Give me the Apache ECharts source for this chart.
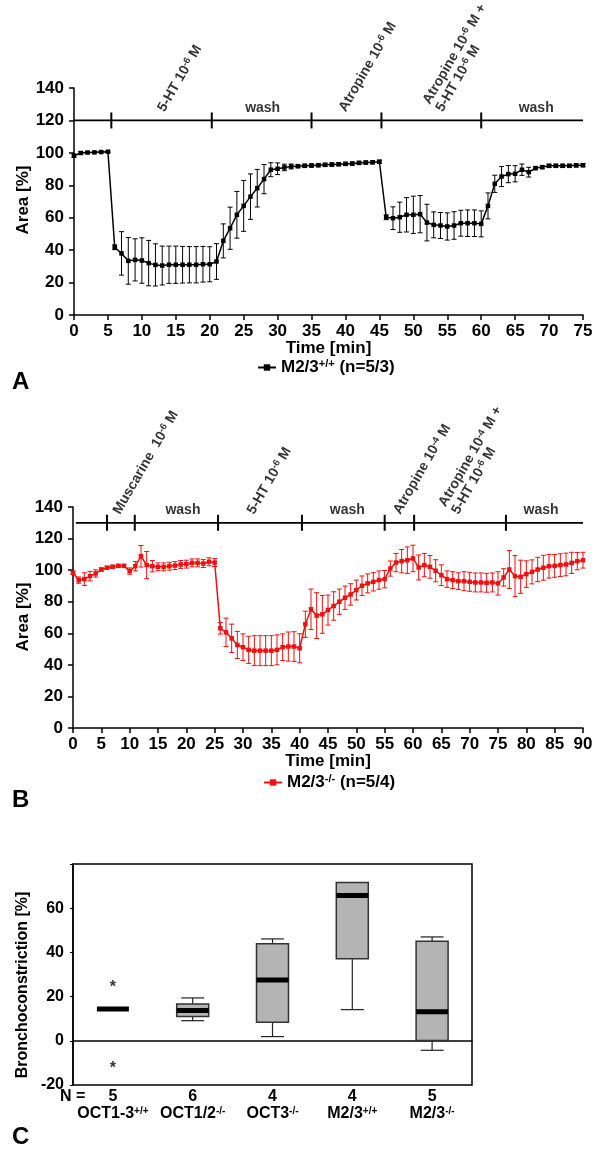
<!DOCTYPE html>
<html><head><meta charset="utf-8">
<script src="https://cdn.jsdelivr.net/npm/echarts@6/dist/echarts.min.js"></script>
<style>html,body{margin:0;padding:0;background:#fff}#c{width:600px;height:1154px}</style>
</head><body><div id="c"></div>
<script>
// ---------- Panel A: M2/3+/+ (mean, SEM per minute 0..75) ----------
const meanA = [98.2,99.9,100.2,100.3,100.5,100.7,41.8,38,33.4,34,33.6,32,30.9,30.5,31,31,31,31,31,31.3,31.3,
  33,45.7,53.5,61.8,67.3,73,78.2,83.8,89.6,90.2,91,91.6,91.8,92,92.2,92.4,92.6,92.8,93,93.2,93.4,93.8,94,94.2,94.5,
  60.3,59.7,60.3,61.8,61.8,62.2,57,55.6,55.2,54.6,55.2,56.6,56.6,56.6,56.2,
  67.3,80.9,85.4,86.9,87.1,89.6,88.1,90.6,91.2,92,92,92,92,92.3,92.4];
const semA = [1,0.8,0.6,0.5,0.5,0.5,1.5,13.4,14.4,13,14,14,13,12,11.5,11.5,11.3,11.2,11.2,11,10.8,
  11,10.5,13,14.4,15.7,14,11.6,9,4.3,3.6,2,1.5,1,1,1,1,1,1,1,1,1,1,1,1,1,
  1.5,7,9.3,10.6,11.5,11.5,11.3,8,8,8.4,8.5,8,8.2,8.2,8,
  8,5.3,6.2,5.3,5,3.5,3,1,1,1,1,1,1,1,1];
const annoTicksA = [5.5, 20.3, 35, 45.3, 60];
const annoLabelsA = [
  ['5-HT 10{s|-6} M', 13.8, true],
  ['wash', 27.8, false],
  ['Atropine 10{s|-6} M', 40.5, true],
  ['Atropine 10{s|-6} M +\n5-HT 10{s|-6} M', 54.8, true],
  ['wash', 68.1, false]
];

// ---------- Panel B: M2/3-/- (mean, SEM per minute 0..90) ----------
const meanB = [98.3,93.7,94.3,96.2,97.9,100.4,101.5,102.1,102.7,102.7,99.4,102.5,108.8,103.2,102.5,102.1,102.1,102.5,102.9,103.6,103.8,
  104.6,104.6,104.2,105.3,104.8,63.2,60.6,56.8,52.6,51.2,49.5,49,49,49,49,49.5,51.2,51.6,51.6,50.5,
  65.7,75.2,71.2,72,74.7,77.3,80,82.5,84.6,87.4,90.1,91.6,92.6,93.7,94.3,
  101,104.8,105.7,106.3,107.4,101.7,103.2,102.1,99.6,96.8,94.3,93.7,93,93,92.6,92.2,92.2,92,92.2,91.6,
  95.4,100.4,96.2,95.8,97.5,98.9,100.4,101.5,102.5,102.7,103.2,103.6,104.6,105.7,106.3];
const semB = [1,2,4,3,2.3,1,1,1,1,1,2,3,6.8,8.6,3.6,2.5,2.5,2.5,2.5,2.5,2.5,
  2.5,2.5,2.5,2.5,2.5,3.7,9,9,8.6,8.4,8.6,9.5,9.5,9.5,9.5,9.5,8.4,9.2,9.4,9.2,
  8.3,12.8,14.5,12,9.5,9,8,7.4,6.8,6.3,6.2,6,5.8,5.8,5.5,
  4.8,5.8,7.4,8.4,8.4,7.9,7.4,7.2,7,6.6,5.2,5.3,5.3,6,6,6,6,6,6,7.4,
  5.5,12,13,10.5,8.4,7.6,7.7,7.9,7.5,7.2,7.2,7.2,6.7,5.5,5];
const annoTicksB = [6, 10.9, 25.6, 40.4, 55, 60.2, 76.4];
const annoLabelsB = [
  ['Muscarine  10{s|-6} M', 8.85, true],
  ['wash', 19.4, false],
  ['5-HT 10{s|-6} M', 32.5, true],
  ['wash', 48.4, false],
  ['Atropine 10{s|-4} M', 58.3, true],
  ['Atropine 10{s|-4} M +\n5-HT 10{s|-6} M', 68.6, true],
  ['wash', 82.6, false]
];

// ---------- Panel C: box plot ----------
const groupNames = ['OCT1-3', 'OCT1/2', 'OCT3', 'M2/3', 'M2/3'];
const groupSup = ['+/+', '-/-', '-/-', '+/+', '-/-'];
const groupN = [5, 6, 4, 4, 5];
const boxMin = [14.4, 9.1, 1.9, 14.1, -4.3];
const boxQ1  = [14.4, 11, 8.4, 37.1, 0.1];
const boxMed = [14.4, 13.7, 27.5, 65.7, 13.2];
const boxQ3  = [14.4, 16.7, 43.9, 71.6, 45];
const boxMax = [14.4, 19.4, 46.1, 71.6, 47];
const outliers = [[0, 26], [0, -10.8]];

const F = 'Liberation Sans';
const RED = '#f01010';
const supRich = { s: { fontSize: 9.5, lineHeight: 9.5, verticalAlign: 'top', fontWeight: 'bold', fontFamily: F, color: '#000' } };

function errRender(color) {
  return function (params, api) {
    const x = api.value(0);
    const lo = api.coord([x, api.value(1)]);
    const hi = api.coord([x, api.value(2)]);
    const w = 2.5;
    const st = { stroke: color, lineWidth: 1 };
    return { type: 'group', children: [
      { type: 'line', shape: { x1: lo[0], y1: lo[1], x2: hi[0], y2: hi[1] }, style: st },
      { type: 'line', shape: { x1: hi[0] - w, y1: hi[1], x2: hi[0] + w, y2: hi[1] }, style: st },
      { type: 'line', shape: { x1: lo[0] - w, y1: lo[1], x2: lo[0] + w, y2: lo[1] }, style: st }
    ] };
  };
}
function tickRender(params, api) {
  const p = api.coord([api.value(0), api.value(1)]);
  return { type: 'line', shape: { x1: p[0], y1: p[1] - 8, x2: p[0], y2: p[1] + 8 }, style: { stroke: '#000', lineWidth: 2 } };
}
function annoSeries(labels, y, idx) {
  return {
    type: 'scatter', xAxisIndex: idx, yAxisIndex: idx, symbolSize: 0, silent: true, z: 5,
    data: labels.map(([text, t, rot]) => ({
      value: [t, y],
      label: rot
        ? { show: true, formatter: text, position: 'top', distance: 6, align: 'left', verticalAlign: 'bottom', rotate: 60 }
        : { show: true, formatter: text, position: 'top', distance: 5, align: 'center', verticalAlign: 'bottom', rotate: 0 }
    })),
    label: { color: '#000', fontFamily: F, fontWeight: 'bold', fontSize: 14, lineHeight: 15, rich: supRich }
  };
}
function timeSeries(name, mean, sem, color, idx, annoY, annoStart, annoEnd, ticks, labels) {
  return [
    { type: 'line', xAxisIndex: idx, yAxisIndex: idx, silent: true, symbol: 'none', z: 4,
      data: [[annoStart, annoY], [annoEnd, annoY]], lineStyle: { color: '#000', width: 1.8 } },
    { type: 'custom', xAxisIndex: idx, yAxisIndex: idx, silent: true, z: 4, renderItem: tickRender,
      data: ticks.map(t => [t, annoY]) },
    annoSeries(labels, annoY, idx),
    { type: 'custom', xAxisIndex: idx, yAxisIndex: idx, silent: true, z: 2, renderItem: errRender(color),
      encode: { x: 0, y: [1, 2] },
      data: mean.map((v, i) => [i, v - sem[i], v + sem[i]]) },
    { type: 'line', name: name, xAxisIndex: idx, yAxisIndex: idx, z: 3,
      data: mean.map((v, i) => [i, v]), symbol: 'rect', symbolSize: 4.5,
      itemStyle: { color: color }, lineStyle: { color: color, width: 1.5 } }
  ];
}

const axisText = { color: '#000', fontFamily: F, fontWeight: 'bold', fontSize: 17 };
const axisTextC = { color: '#000', fontFamily: F, fontWeight: 'bold', fontSize: 16 };
const axLine = { show: true, lineStyle: { color: '#000', width: 1.5 } };
const axTick = { show: true, length: 5, lineStyle: { color: '#000', width: 1.5 } };

function timeX(idx, max) {
  return { type: 'value', gridIndex: idx, min: 0, max: max, interval: 5, splitLine: { show: false },
    axisLine: axLine, axisTick: axTick, axisLabel: Object.assign({ margin: 8 }, axisText),
    name: 'Time [min]', nameLocation: 'middle', nameGap: 25, nameMoveOverlap: false,
    nameTextStyle: Object.assign({}, axisText) };
}
function areaY(idx) {
  return { type: 'value', gridIndex: idx, min: 0, max: 140, interval: 20, splitLine: { show: false },
    axisLine: axLine, axisTick: axTick, axisLabel: Object.assign({ margin: 10 }, axisText) };
}
const legendRich = {
  m: { fontFamily: F, fontWeight: 'bold', fontSize: 17, lineHeight: 19, color: '#000' },
  s: { fontFamily: F, fontWeight: 'bold', fontSize: 11, lineHeight: 11, verticalAlign: 'top', color: '#000' }
};
const yName = (text, x, y) => ({ type: 'text', x: x, y: y, rotation: Math.PI / 2,
  style: { text: text, font: 'bold 17px "Liberation Sans"', fill: '#000', textAlign: 'center', textVerticalAlign: 'middle' } });

const chart = echarts.init(document.getElementById('c'), null, { renderer: 'canvas' });
chart.setOption({
  animation: false,
  backgroundColor: '#fff',
  grid: [
    { left: 74, right: 17, top: 88, bottom: 839 },
    { left: 73, right: 17, top: 507, bottom: 426 },
    { left: 73, right: 128, top: 864, bottom: 69, show: true, borderColor: '#000', borderWidth: 1.5 }
  ],
  xAxis: [
    timeX(0, 75),
    timeX(1, 90),
    { type: 'category', gridIndex: 2, data: groupNames.map((g, i) => String(i)),
      axisLine: axLine, axisTick: { show: false }, splitLine: { show: false },
      axisLabel: { margin: 3, interval: 0,
        formatter: (v, i) => '{n|' + groupN[i] + '}\n{c|' + groupNames[i] + '}{s|' + groupSup[i] + '}',
        rich: {
          n: { fontFamily: F, fontWeight: 'bold', fontSize: 16, lineHeight: 18, color: '#000' },
          c: { fontFamily: F, fontWeight: 'bold', fontSize: 16, lineHeight: 16, color: '#000' },
          s: { fontFamily: F, fontWeight: 'bold', fontSize: 10, lineHeight: 10, verticalAlign: 'top', color: '#000' }
        } } }
  ],
  yAxis: [
    areaY(0),
    areaY(1),
    { type: 'value', gridIndex: 2, min: -20, max: 80, interval: 20, splitLine: { show: false },
      axisLine: axLine, axisTick: { show: true, length: 3, lineStyle: { color: '#000' } },
      axisLabel: Object.assign({ margin: 9, formatter: v => (v === 80 ? '' : String(v)) }, axisTextC) }
  ],
  legend: [
    { data: ['wt'], left: 252, top: 353, itemWidth: 18, itemHeight: 8, selectedMode: false, itemGap: 6,
      formatter: () => '{m|M2/3}{s|+/+}{m| (n=5/3)}', textStyle: { rich: legendRich } },
    { data: ['ko'], left: 258, top: 768, itemWidth: 18, itemHeight: 8, selectedMode: false, itemGap: 6,
      formatter: () => '{m|M2/3}{s|-/-}{m| (n=5/4)}', textStyle: { rich: legendRich } }
  ],
  graphic: [
    { type: 'text', left: 12, top: 370, style: { text: 'A', font: 'bold 24px "Liberation Sans"', fill: '#000' } },
    { type: 'text', left: 12, top: 788, style: { text: 'B', font: 'bold 24px "Liberation Sans"', fill: '#000' } },
    { type: 'text', left: 12, top: 1125, style: { text: 'C', font: 'bold 24px "Liberation Sans"', fill: '#000' } },
    { type: 'text', left: 60, top: 1089, style: { text: 'N =', font: 'bold 16px "Liberation Sans"', fill: '#000' } },
    yName('Area [%]', 23, 200),
    yName('Area [%]', 23, 617),
    { type: 'text', x: 23, y: 985, rotation: Math.PI / 2,
      style: { text: 'Bronchoconstriction [%]', font: 'bold 16px "Liberation Sans"', fill: '#000', textAlign: 'center', textVerticalAlign: 'middle' } }
  ],
  series: [].concat(
    timeSeries('wt', meanA, semA, '#000', 0, 120, 0, 75, annoTicksA, annoLabelsA),
    timeSeries('ko', meanB, semB, RED, 1, 130, 0.5, 90, annoTicksB, annoLabelsB),
    [
      { type: 'custom', xAxisIndex: 2, yAxisIndex: 2, silent: true,
        encode: { x: 0, y: [1, 2, 3, 4, 5] },
        data: groupNames.map((g, i) => [i, boxMin[i], boxQ1[i], boxMed[i], boxQ3[i], boxMax[i]]),
        renderItem: function (params, api) {
          const i = api.value(0);
          const pMin = api.coord([i, api.value(1)]);
          const pQ1 = api.coord([i, api.value(2)]);
          const pMed = api.coord([i, api.value(3)]);
          const pQ3 = api.coord([i, api.value(4)]);
          const pMax = api.coord([i, api.value(5)]);
          const x = pMed[0], hw = 16, cw = 11.5;
          const ln = { stroke: '#222', lineWidth: 1.2 };
          const ch = [];
          if (pQ3[1] - pMax[1] > 0.5) {
            ch.push({ type: 'line', shape: { x1: x, y1: pQ3[1], x2: x, y2: pMax[1] }, style: ln });
            ch.push({ type: 'line', shape: { x1: x - cw, y1: pMax[1], x2: x + cw, y2: pMax[1] }, style: ln });
          }
          if (pMin[1] - pQ1[1] > 0.5) {
            ch.push({ type: 'line', shape: { x1: x, y1: pQ1[1], x2: x, y2: pMin[1] }, style: ln });
            ch.push({ type: 'line', shape: { x1: x - cw, y1: pMin[1], x2: x + cw, y2: pMin[1] }, style: ln });
          }
          if (pQ1[1] - pQ3[1] > 0.5) {
            ch.push({ type: 'rect', shape: { x: x - hw, y: pQ3[1], width: 2 * hw, height: pQ1[1] - pQ3[1] },
              style: { fill: '#b4b4b4', stroke: '#333', lineWidth: 1.5 } });
          }
          ch.push({ type: 'rect', shape: { x: x - hw, y: pMed[1] - 2.5, width: 2 * hw, height: 5 }, style: { fill: '#000' } });
          return { type: 'group', children: ch };
        } },
      { type: 'scatter', xAxisIndex: 2, yAxisIndex: 2, symbolSize: 0, silent: true,
        data: outliers,
        label: { show: true, formatter: '*', position: 'inside', offset: [0, 4], color: '#000', fontFamily: F, fontWeight: 'bold', fontSize: 16 } }
    ]
  )
});
</script></body></html>
